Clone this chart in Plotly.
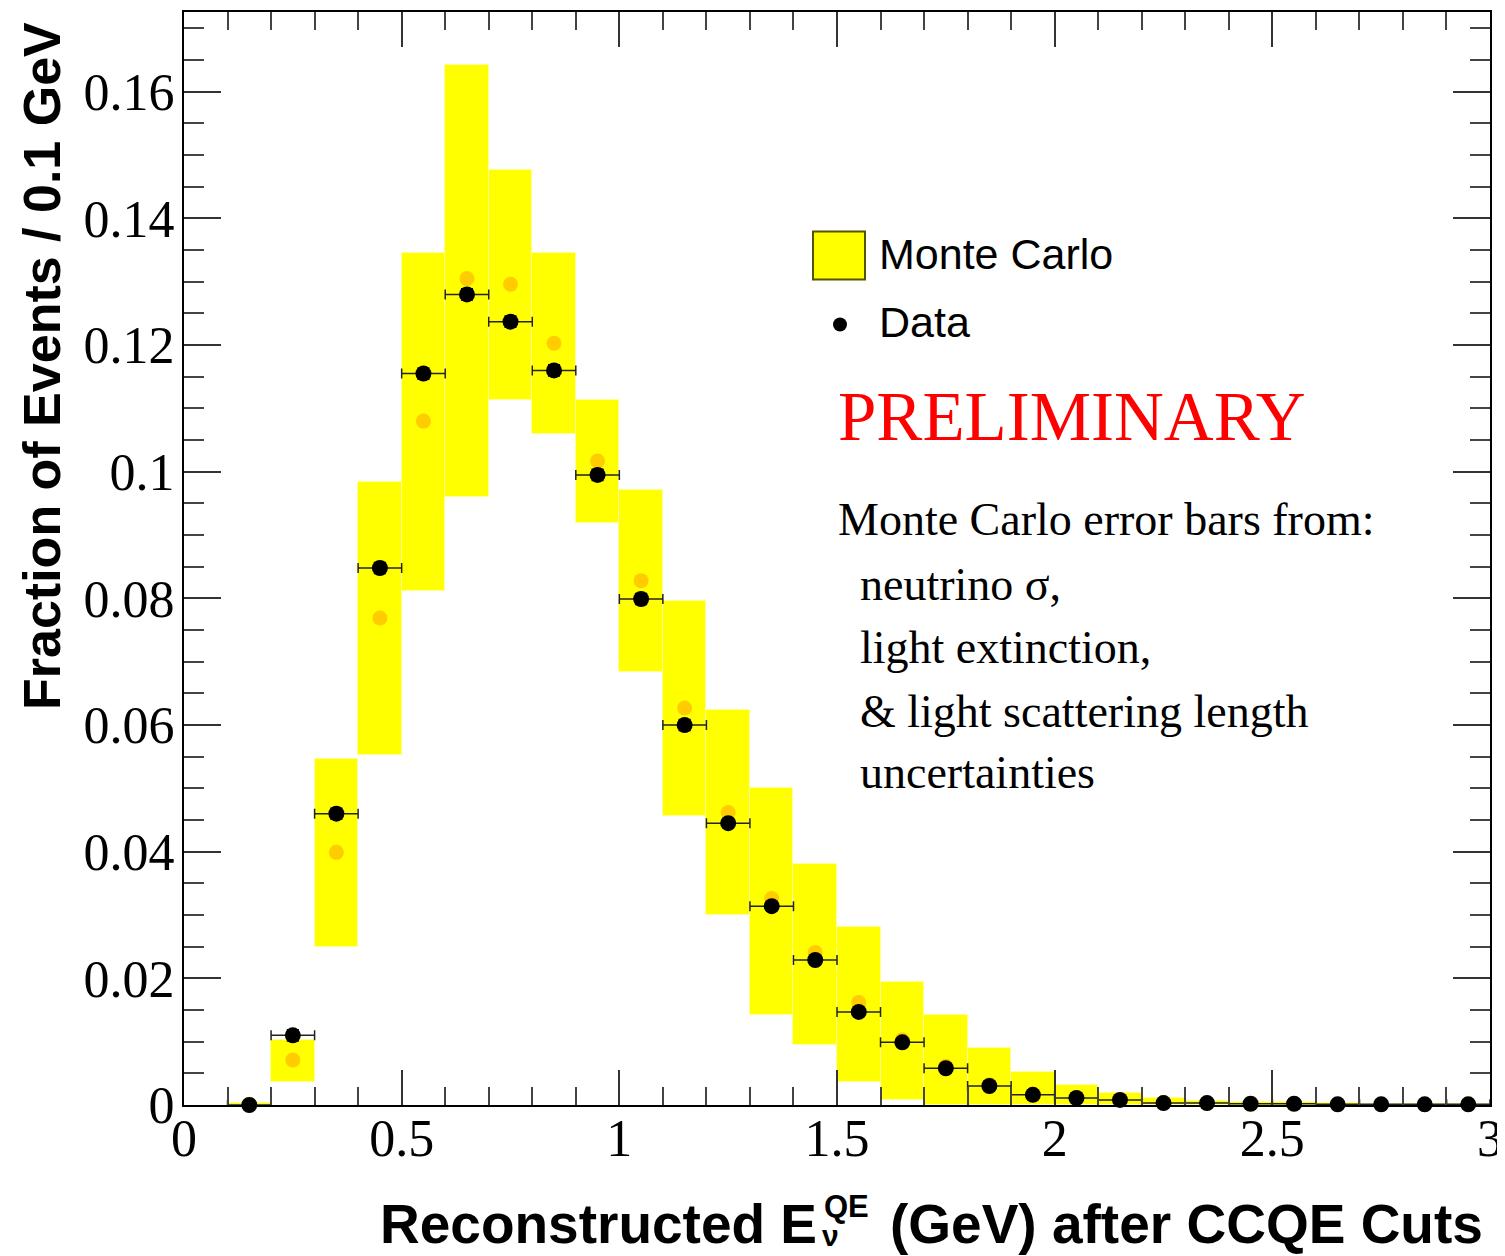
import plotly.graph_objects as go

# ---------------- data ----------------
bin_centers = [0.15, 0.25, 0.35, 0.45, 0.55, 0.65, 0.75, 0.85, 0.95, 1.05,
               1.15, 1.25, 1.35, 1.45, 1.55, 1.65, 1.75, 1.85, 1.95, 2.05,
               2.15, 2.25, 2.35, 2.45, 2.55, 2.65, 2.75, 2.85, 2.95]

data_values = [0.0, 0.011, 0.046, 0.0848, 0.1155, 0.128, 0.1237, 0.116, 0.0995, 0.0799,
               0.060, 0.0445, 0.0314, 0.0229, 0.0147, 0.0099, 0.0058, 0.0030, 0.0016, 0.0011,
               0.0008, 0.0003, 0.0003, 0.0002, 0.0002, 0.0001, 0.0001, 0.0001, 0.0001]
data_yerr = [0.0003, 0.0008, 0.0008, 0.0008, 0.0008, 0.0008, 0.0008, 0.0008, 0.0008, 0.0008,
             0.0008, 0.0006, 0.0006, 0.0005, 0.0005, 0.0004, 0.0003, 0.0003, 0.0002, 0.0002,
             0.0002, 0.0001, 0.0001, 0.0001, 0.0001, 0.0001, 0.0001, 0.0001, 0.0001]
data_xerr = [0.05] * len(bin_centers)

mc_central = [0.0001, 0.0071, 0.0399, 0.0769, 0.108, 0.1305, 0.1296, 0.1203, 0.1017, 0.0828,
              0.0627, 0.0462, 0.0326, 0.0241, 0.0162, 0.0103, 0.0061, 0.0032, 0.0017, 0.0011,
              0.0008, 0.0004, 0.0003, 0.0002, 0.0002, 0.0001, 0.0001, 0.0001, 0.0001]
mc_upper = [0.0003, 0.0102, 0.0547, 0.0984, 0.1345, 0.1643, 0.1477, 0.1346, 0.1114, 0.0971,
            0.0796, 0.0623, 0.0501, 0.0381, 0.0281, 0.0195, 0.0142, 0.0090, 0.0052, 0.0031,
            0.0019, 0.0011, 0.0007, 0.0005, 0.0004, 0.0003, 0.0002, 0.0002, 0.0002]
mc_lower = [0.0, 0.0036, 0.0249, 0.0552, 0.0812, 0.0960, 0.1114, 0.1059, 0.0919, 0.0684,
            0.0457, 0.0300, 0.0142, 0.0095, 0.0036, 0.0008, 0.0, 0.0, 0.0, 0.0,
            0.0, 0.0, 0.0, 0.0, 0.0, 0.0, 0.0, 0.0, 0.0]
bin_width = 0.1

x_tickvals = [0, 0.5, 1, 1.5, 2, 2.5, 3]
x_ticktext = ["0", "0.5", "1", "1.5", "2", "2.5", "3"]
y_tickvals = [0, 0.02, 0.04, 0.06, 0.08, 0.1, 0.12, 0.14, 0.16]
y_ticktext = ["0", "0.02", "0.04", "0.06", "0.08", "0.1", "0.12", "0.14", "0.16"]

# ---------------- layout geometry (pixels) ----------------
# the page body has an 8px margin; the figure is sized to compensate
OFF = 8
W, H = 1497, 1248
L, R, T, B = 176, 15, 2, 151
PW = W - L - R
PH = H - T - B


def px(xp):
    return (xp - OFF - L) / PW


def py(yp):
    return (H - B - (yp - OFF)) / PH


SERIF = "Liberation Serif, Times New Roman, serif"
SANS = "Liberation Sans, Arial, Helvetica, sans-serif"

fig = go.Figure()

fig.add_trace(go.Bar(
    x=bin_centers,
    y=[u - l for u, l in zip(mc_upper, mc_lower)],
    base=mc_lower,
    width=bin_width,
    marker=dict(color="#ffff00", line=dict(color="#ffff9a", width=1)),
    showlegend=False,
    hoverinfo="skip",
))

fig.add_trace(go.Scatter(
    x=bin_centers, y=mc_central, mode="markers",
    marker=dict(color="#ffcc00", size=15),
    cliponaxis=False, showlegend=False,
))

fig.add_trace(go.Scatter(
    x=bin_centers, y=data_values, mode="markers",
    marker=dict(color="black", size=16),
    error_x=dict(type="data", array=data_xerr, color="#222222", thickness=1.5, width=5),
    error_y=dict(type="data", array=data_yerr, color="black", thickness=2.5, width=6),
    cliponaxis=False, showlegend=False,
))

axis_common = dict(
    showgrid=False, zeroline=False,
    showline=True, linecolor="black", linewidth=2,
    mirror="allticks", ticks="inside", tickcolor="#333333", tickwidth=2,
    tickfont=dict(family=SERIF, size=52, color="black"),
)

fig.update_xaxes(
    **axis_common,
    range=[0, 3],
    tickvals=x_tickvals, ticktext=x_ticktext, ticklen=35,
    ticklabelstandoff=-13,
    minor=dict(ticks="inside", dtick=0.1, tick0=0, ticklen=18, tickwidth=2, tickcolor="#444444"),
)
fig.update_yaxes(
    **axis_common,
    range=[0, 0.1726],
    tickvals=y_tickvals, ticktext=y_ticktext, ticklen=37,
    ticklabelstandoff=-3,
    minor=dict(ticks="inside", dtick=0.005, tick0=0, ticklen=20, tickwidth=2, tickcolor="#444444"),
)

annotations = []
# y-axis title (top aligned, as in ROOT)
annotations.append(dict(
    text="<b>Fraction of Events / 0.1 GeV</b>", textangle=-90,
    xref="paper", yref="paper", x=px(42), y=py(18), xanchor="center", yanchor="top",
    showarrow=False, font=dict(family=SANS, size=52, color="black"),
))
# x-axis title pieces
annotations.append(dict(
    text="<b>Reconstructed E</b>", xref="paper", yref="paper",
    x=px(819), y=py(1224), xanchor="right", yanchor="middle",
    showarrow=False, font=dict(family=SANS, size=55, color="black"),
))
annotations.append(dict(
    text="<b>QE</b>", xref="paper", yref="paper",
    x=px(822), y=py(1207), xanchor="left", yanchor="middle",
    showarrow=False, font=dict(family=SANS, size=31, color="black"),
))
annotations.append(dict(
    text="<b>ν</b>", xref="paper", yref="paper",
    x=px(820), y=py(1236), xanchor="left", yanchor="middle",
    showarrow=False, font=dict(family=SANS, size=30, color="black"),
))
annotations.append(dict(
    text="<b>(GeV) after CCQE Cuts</b>", xref="paper", yref="paper",
    x=px(888), y=py(1224), xanchor="left", yanchor="middle",
    showarrow=False, font=dict(family=SANS, size=55, color="black"),
))
# legend texts
annotations.append(dict(
    text="Monte Carlo", xref="paper", yref="paper", x=px(877), y=py(252),
    xanchor="left", yanchor="middle", showarrow=False,
    font=dict(family=SANS, size=43, color="black"),
))
annotations.append(dict(
    text="Data", xref="paper", yref="paper", x=px(877), y=py(321),
    xanchor="left", yanchor="middle", showarrow=False,
    font=dict(family=SANS, size=43, color="black"),
))
annotations.append(dict(
    text="PRELIMINARY", xref="paper", yref="paper", x=px(836), y=py(416),
    xanchor="left", yanchor="middle", showarrow=False,
    font=dict(family=SERIF, size=69, color="#ff0000"),
))
note_lines = [
    ("Monte Carlo error bars from:", 836, 518),
    ("neutrino σ,", 858, 584),
    ("light extinction,", 858, 647),
    ("&amp; light scattering length", 858, 711),
    ("uncertainties", 858, 772),
]
for txt, xp, yp in note_lines:
    annotations.append(dict(
        text=txt, xref="paper", yref="paper", x=px(xp), y=py(yp),
        xanchor="left", yanchor="middle", showarrow=False,
        font=dict(family=SERIF, size=46, color="black"),
    ))

shapes = [
    dict(type="rect", xref="paper", yref="paper",
         x0=px(813), x1=px(865), y0=py(278), y1=py(230),
         fillcolor="#ffff00", line=dict(color="#555500", width=2)),
    dict(type="circle", xref="paper", yref="paper",
         xsizemode="pixel", ysizemode="pixel",
         xanchor=px(840), yanchor=py(323),
         x0=-7, x1=7, y0=-7, y1=7,
         fillcolor="black", line=dict(color="black", width=0)),
]

fig.update_layout(
    width=W, height=H,
    margin=dict(l=L, r=R, t=T, b=B, pad=0),
    paper_bgcolor="white", plot_bgcolor="white",
    barmode="overlay", bargap=0,
    showlegend=False,
    annotations=annotations,
    shapes=shapes,
)

fig.write_html("out.html")
